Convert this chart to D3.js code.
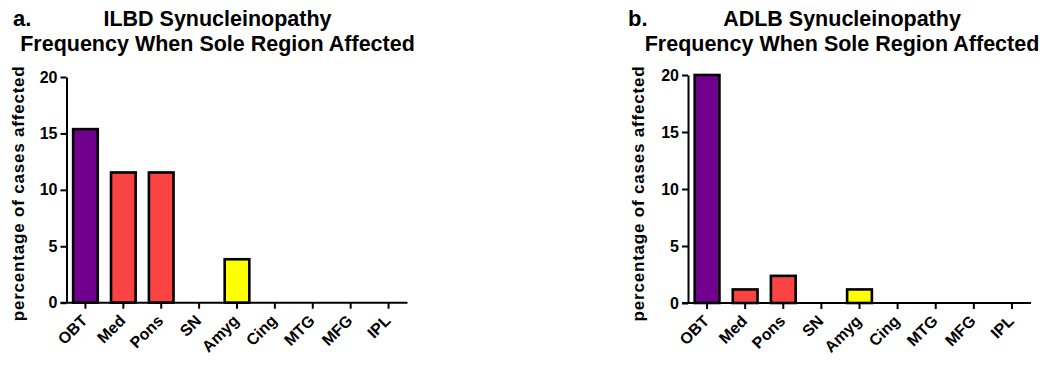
<!DOCTYPE html>
<html>
<head>
<meta charset="utf-8">
<script src="https://cdn.jsdelivr.net/npm/d3@7"></script>
<style>
  html, body { margin: 0; padding: 0; background: #fff; }
  svg { display: block; }
  text { font-family: "Liberation Sans", Arial, sans-serif; font-weight: bold; fill: #000; }
</style>
</head>
<body>
<svg id="chart" width="1050" height="368"></svg>
<script>
const categories = ["OBT", "Med", "Pons", "SN", "Amyg", "Cing", "MTG", "MFG", "IPL"];
const barColors = ["#72008f", "#fa4444", "#fa4444", "#fa4444", "#ffff00", "#ffff00", "#ffff00", "#ffff00", "#ffff00"];
const ilbdValues = [15.38, 11.54, 11.54, 0, 3.85, 0, 0, 0, 0];
const adlbValues = [20.0, 1.19, 2.38, 0, 1.19, 0, 0, 0, 0];
const yTicks = [0, 5, 10, 15, 20];
const yLabel = "percentage of cases affected";
const panels = [
  { letter: "a.", title1: "ILBD Synucleinopathy", title2: "Frequency When Sole Region Affected", values: ilbdValues,
    x0: 66.5, x1: 407.5, y0: 302.7, y1: 77, letterX: 13, titleCx: 217.5, yLabelX: 24 },
  { letter: "b.", title1: "ADLB Synucleinopathy", title2: "Frequency When Sole Region Affected", values: adlbValues,
    x0: 688, x1: 1031, y0: 303, y1: 75, letterX: 628, titleCx: 842, yLabelX: 644 }
];

const svg = d3.select("#chart");

panels.forEach(p => {
  const g = svg.append("g");
  const x = d3.scaleBand().domain(categories).range([p.x0, p.x1]).paddingInner(0.35).paddingOuter(0.175);
  const y = d3.scaleLinear().domain([0, 20]).range([p.y0, p.y1]);

  // bars
  g.selectAll("rect.bar").data(categories.map((c, i) => ({ c, v: p.values[i], col: barColors[i] })).filter(d => d.v > 0))
    .enter().append("rect").attr("class", "bar")
    .attr("x", d => x(d.c))
    .attr("width", x.bandwidth())
    .attr("y", d => y(d.v))
    .attr("height", d => y(0) - y(d.v))
    .attr("fill", d => d.col)
    .attr("stroke", "#000")
    .attr("stroke-width", 2.6);

  // y axis
  const yAxis = d3.axisLeft(y).tickValues(yTicks).tickSize(6).tickPadding(3).tickSizeOuter(0);
  const ya = g.append("g").attr("transform", `translate(${p.x0},0)`).call(yAxis);
  ya.select(".domain").attr("stroke-width", 2);
  ya.selectAll(".tick line").attr("stroke-width", 2);
  ya.selectAll(".tick text").style("font-size", "16px").style("font-family", "'Liberation Sans', Arial, sans-serif").style("font-weight", "bold");

  // x axis
  const xAxis = d3.axisBottom(x).tickSize(6).tickSizeOuter(0).tickPadding(4);
  const xa = g.append("g").attr("transform", `translate(0,${p.y0})`).call(xAxis);
  xa.select(".domain").attr("d", `M${p.x0 - 6},0H${p.x1}`).attr("stroke-width", 2);
  xa.selectAll(".tick line").attr("stroke-width", 2);
  xa.selectAll(".tick text")
    .style("font-size", "16px").style("font-family", "'Liberation Sans', Arial, sans-serif").style("font-weight", "bold")
    .attr("text-anchor", "end")
    .attr("dy", "0")
    .attr("transform", "translate(3,19) rotate(-45)")
    .attr("y", 0).attr("x", 0);

  // y label
  g.append("text")
    .attr("transform", `translate(${p.yLabelX},${(p.y0 + 80) / 2 + 2}) rotate(-90)`)
    .attr("text-anchor", "middle")
    .style("font-size", "17px")
    .style("letter-spacing", "0.8px")
    .text(yLabel);

  // titles
  g.append("text").attr("x", p.letterX).attr("y", 26).style("font-size", "22px").text(p.letter);
  g.append("text").attr("x", p.titleCx).attr("y", 26).attr("text-anchor", "middle").style("font-size", "21.5px").text(p.title1);
  g.append("text").attr("x", p.titleCx).attr("y", 51).attr("text-anchor", "middle").style("font-size", "21.5px").text(p.title2);
});
</script>
</body>
</html>
